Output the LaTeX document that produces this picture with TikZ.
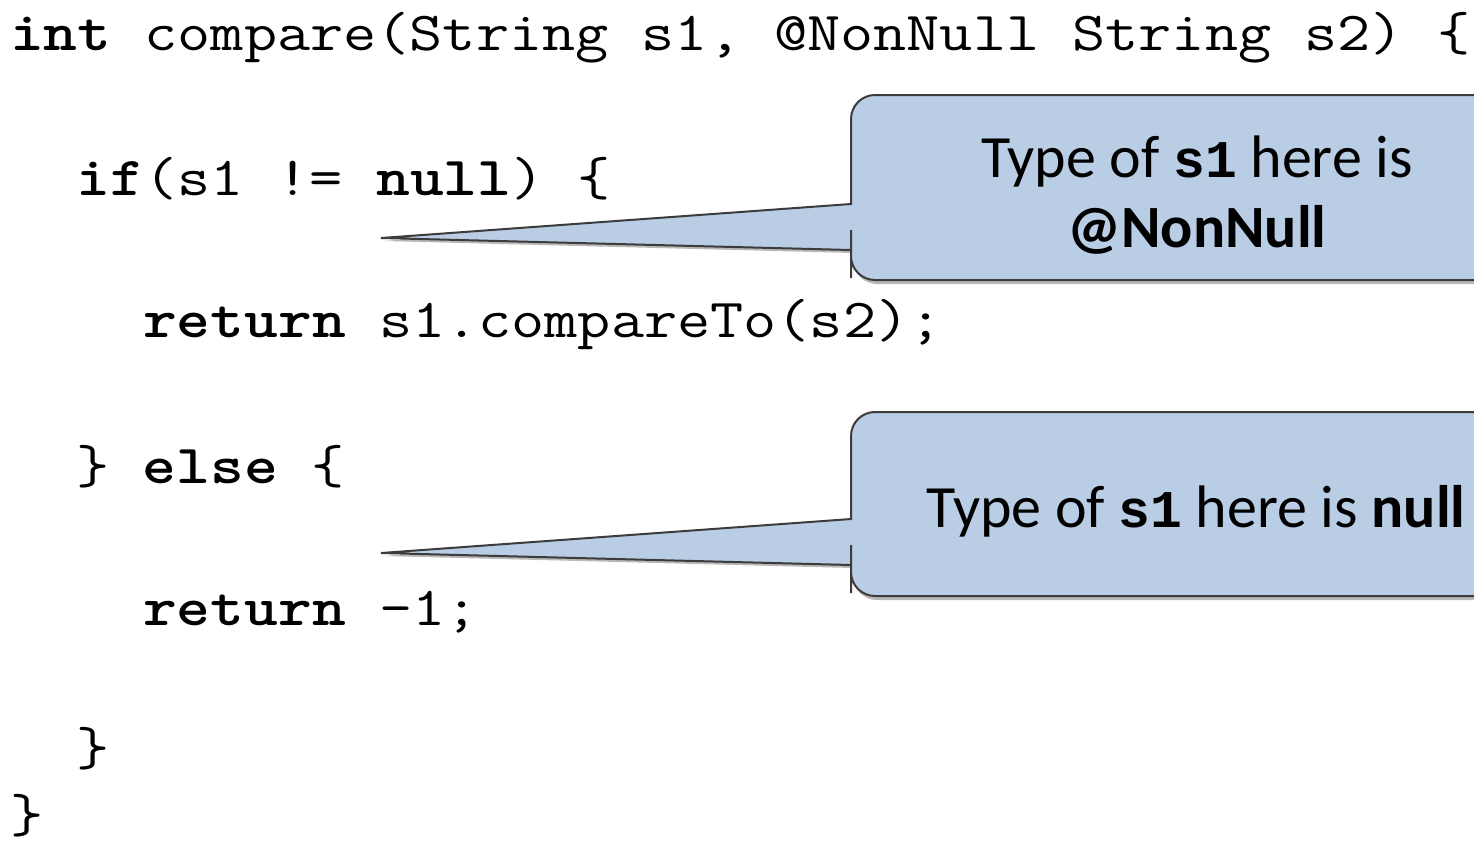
\documentclass[tikz,border=0pt]{standalone}
\usepackage{fontspec}
\usepackage{graphicx}
\setmainfont{Carlito}
\newfontfamily\calmono{Liberation Mono}
\definecolor{callfill}{HTML}{B9CDE5}
\definecolor{callline}{HTML}{3C3C3C}
\newcommand\cdl[1]{\scalebox{1.17}[1]{#1}}
\newcommand\monoid[1]{{\calmono\fontsize{53}{60}\selectfont\bfseries #1}}
\tikzset{
  codeline/.style={anchor=base west, inner sep=0pt, font=\fontsize{55}{60}\selectfont\ttfamily},
  calltext/.style={anchor=base, inner sep=0pt, font=\fontsize{60}{66}\selectfont},
  callshape/.style={fill=callfill, draw=callline, line width=2pt, line join=miter},
  callshadow/.style={fill=black, opacity=0.28, draw=none}
}
\begin{document}
\begin{tikzpicture}[x=1pt,y=-1pt]
\useasboundingbox (0,0) rectangle (1474,844);
\fill[white] (0,0) rectangle (1474,844);
\begin{scope}
\clip (0,0) rectangle (1474,844);
\coordinate (tip1) at (381,238);
\coordinate (tip2) at (381,553);
% shadows
\path[callshadow] (383,241) -- (853,207) -- (853,153) [rounded corners=24] -- (853,98) -- (1522,98)
  -- (1522,284) -- (853,284) -- (853,257) [sharp corners] -- (853,253) -- cycle;
\path[callshadow] (383,556) -- (853,522) -- (853,473) [rounded corners=24] -- (853,415) -- (1522,415)
  -- (1522,600) -- (853,600) -- (853,572) [sharp corners] -- (853,568) -- cycle;
% callout 1
\path[callshape] (tip1) -- (851,204) -- (851,150) [rounded corners=24] -- (851,95) -- (1520,95)
  -- (1520,280) -- (851,280) -- (851,254) [sharp corners] -- (851,250) -- cycle;
% callout 2
\path[callshape] (tip2) -- (851,519) -- (851,470) [rounded corners=24] -- (851,412) -- (1520,412)
  -- (1520,596) -- (851,596) -- (851,569) [sharp corners] -- (851,565) -- cycle;
\end{scope}
% callout texts
\node[calltext] (t1a) at (1197,177) {Type of \monoid{s1} here is};
\node[calltext] (t1b) at (1197,247) {\bfseries @NonNull};
\node[calltext] (t2) at (1196,527) {Type of \monoid{s1} here is \textbf{null}};
% code
\node[codeline] (c1) at (10,50) {\cdl{\textbf{int} compare(String s1, @NonNull String s2) \{}};
\node[codeline] (c2) at (76.5,195) {\cdl{\textbf{if}(s1 != \textbf{null}) \{}};
\node[codeline] (c3) at (143,337) {\cdl{\textbf{return} s1.compareTo(s2);}};
\node[codeline] (c4) at (76.5,483) {\cdl{\} \textbf{else} \{}};
\node[codeline] (c5) at (143,625) {\cdl{\textbf{return} -1;}};
\node[codeline] (c6) at (76.5,765) {\cdl{\}}};
\node[codeline] (c7) at (10,832) {\cdl{\}}};
\end{tikzpicture}
\end{document}
